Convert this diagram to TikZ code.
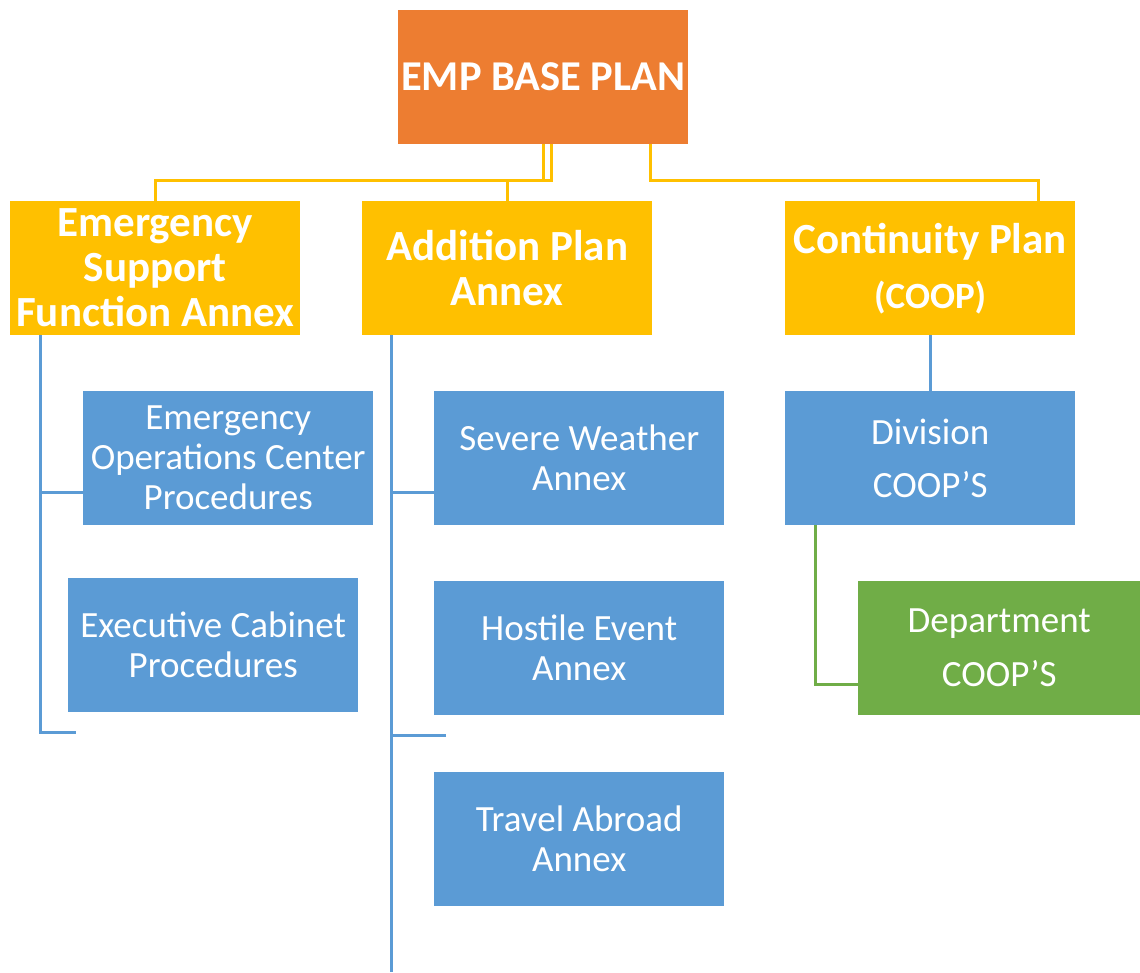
\documentclass[tikz,border=0pt]{standalone}
\usepackage{fontspec}
\setmainfont{Carlito}
\usetikzlibrary{positioning}
\definecolor{pBase}{HTML}{ED7D31}
\definecolor{pAnnex}{HTML}{FFC000}
\definecolor{pProc}{HTML}{5B9BD5}
\definecolor{pDept}{HTML}{70AD47}
\tikzset{
  box/.style={anchor=north west, minimum width=290, minimum height=134,
              inner sep=1pt, align=center, text=white},
  base/.style={box, fill=pBase, font=\fontsize{42.5}{45}\bfseries},
  annex/.style={box, fill=pAnnex, font=\fontsize{43}{45}\bfseries},
  proc/.style={box, fill=pProc, font=\fontsize{37}{40}\selectfont},
  dept/.style={box, fill=pDept, font=\fontsize{37}{40}\selectfont,
               minimum width=282},
  tie/.style={draw=pAnnex, line width=3pt},
  link/.style={draw=pProc, line width=3pt},
  deptlink/.style={draw=pDept, line width=3pt},
}

\begin{document}
\begin{tikzpicture}[x=1pt, y=-1pt]
\useasboundingbox (0,0) rectangle (1140,972);

%% ── top of the plan ──────────────────────────────────────────────────────
\node[base] (emp) at (398,10) {EMP BASE PLAN};

%% ── the three annex boxes ────────────────────────────────────────────────
\node[annex] (esf)  at (10,201)  {Emergency\\Support\\Function Annex};
\node[annex] (add)  at (362,201) {Addition Plan\\Annex};
\node[annex] (coop) at (785,201)
  {Continuity Plan\\[10pt]{\fontsize{37}{38}\selectfont(COOP)}};

%% ── procedures under each annex ──────────────────────────────────────────
\node[proc] (eoc)  at (83,391)  {Emergency\\Operations Center\\Procedures};
\node[proc] (exec) at (68,578)  {Executive Cabinet\\Procedures};
\node[proc] (sev)  at (434,391) {Severe Weather\\Annex};
\node[proc] (hos)  at (434,581) {Hostile Event\\Annex};
\node[proc] (trv)  at (434,772) {Travel Abroad\\Annex};
\node[proc, font=\fontsize{37}{53}\selectfont] (div) at (785,391)
  {Division\\COOP’S};
\node[dept, font=\fontsize{37}{54}\selectfont] (dep) at (858,581)
  {Department\\COOP’S};

%% ── base plan -> annexes, through a bus at y=180 ─────────────────────────
\coordinate (bus) at (0,180);
\draw[tie] (emp.south) -- (emp.south |- bus) -| (esf.north);
\draw[tie] ([xshift=8]emp.south) -- ([xshift=8]emp.south |- bus) -| (add.north);
\draw[tie] ([xshift=107]emp.south) -- ([xshift=107]emp.south |- bus)
  -| ([xshift=108]coop.north);

%% ── left trunk ───────────────────────────────────────────────────────────
\coordinate (endA) at (76,732);
\draw[link] ([xshift=30]esf.south west) |- (endA);
\draw[link] ([yshift=33]eoc.south west) -- ([yshift=33]eoc.south west -| endA)
  -- +(-36,0);

%% ── middle trunk, runs off the bottom ────────────────────────────────────
\coordinate (endB) at (391,972);
\coordinate (stubB) at (446,735);
\draw[link] ([xshift=29]add.south west) -- (endB);
\draw[link] ([yshift=33]sev.south west) -- ([yshift=33]sev.south west -| endB);
\draw[link] (stubB) -- (stubB -| endB);

%% ── continuity chain ─────────────────────────────────────────────────────
\draw[link] (coop.south) -- (div.north);
\draw[deptlink] ([xshift=30]div.south west) |- ([yshift=31]dep.south west);

\end{tikzpicture}
\end{document}
